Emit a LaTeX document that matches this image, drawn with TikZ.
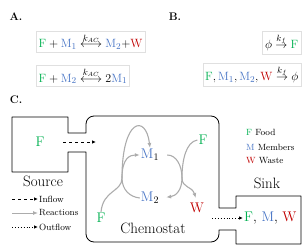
\documentclass[tikz,border=0pt]{standalone}
\usepackage{amsmath}
\usetikzlibrary{arrows.meta}
\definecolor{FoodGreen}{HTML}{00B050}
\definecolor{MemberBlue}{HTML}{4472C4}
\definecolor{WasteRed}{HTML}{C00000}
\definecolor{ReactGray}{HTML}{ACACAC}
\newcommand{\Fo}{\textcolor{FoodGreen}{\mathrm{F}}}
\newcommand{\Mi}[1]{\textcolor{MemberBlue}{\mathrm{M}_{#1}}}
\newcommand{\Wa}{\textcolor{WasteRed}{\mathrm{W}}}
\newcommand{\Fs}{\textcolor{FoodGreen}{F}}
\newcommand{\Ms}{\textcolor{MemberBlue}{M}}
\newcommand{\Ws}{\textcolor{WasteRed}{W}}

\begin{document}
\begin{tikzpicture}[x=1pt,y=-1pt,
      every node/.style={inner sep=1pt},
      tag/.style={font=\fontsize{11}{13}\selectfont\bfseries},
      eqn/.style={draw=black!12,inner sep=2.5pt,font=\fontsize{12.5}{15}\selectfont},
      place/.style={font=\fontsize{15}{18}\selectfont},
      species/.style={font=\fontsize{14}{16}\selectfont},
      keytext/.style={font=\fontsize{9}{11}\selectfont,anchor=west},
      wall/.style={line width=0.8pt,line join=round},
      inflow/.style={-{Latex[length=4pt,width=3.5pt]},dashed,line width=0.9pt},
      outflow/.style={-{Latex[length=4pt,width=3.5pt]},dotted,line width=0.9pt},
      react/.style={-{Latex[length=5pt,width=4pt]},draw=ReactGray,line width=1.1pt}]
  \useasboundingbox (0,0) rectangle (308,246);
  % panel tags
  \node[tag] (tagA) at (16,17) {A.};
  \node[tag] (tagB) at (175,17) {B.};
  \node[tag] (tagC) at (16,100) {C.};
  % reactions and flows
  \node[eqn,anchor=base west] (eqA1) at (36,48) {$\Fo + \Mi1 \overset{k_{AC}}{\longleftrightarrow} \Mi2{+}\Wa$};
  \node[eqn,anchor=base west] (eqA2) at (36,82) {$\Fo + \Mi2 \overset{k_{AC}}{\longleftrightarrow} 2\Mi1$};
  \node[eqn,anchor=base east] (eqB1) at (301,49) {$\phi \overset{k_f}{\rightarrow} \Fo$};
  \node[eqn,anchor=base east] (eqB2) at (301,81) {$\Fo, \Mi1, \Mi2, \Wa \overset{k_f}{\rightarrow} \phi$};
  % source, chemostat and sink walls
  \draw[wall] (12,117) -- (68,117) -- (68,133) -- (86,133) [rounded corners=8pt] -- (86,116) -- (219,116)
    [sharp corners] -- (219,208) -- (236,208) -- (236,196) -- (301,196) -- (301,244) -- (236,244) -- (236,230)
    -- (219,230) [rounded corners=8pt] -- (219,242) -- (86,242) [sharp corners] -- (86,152) -- (68,152)
    -- (68,172) -- (12,172) -- cycle;
  \node[place] (source) at (43,181) {Source};
  \node[place] (chemo) at (153,228) {Chemostat};
  \node[place] (sink) at (267,183) {Sink};
  % species
  \node[species] (fS) at (40,142) {\Fs};
  \node[species] (fL) at (101,218) {\Fs};
  \node[species] (fR) at (203,140) {\Fs};
  \node[species] (m1) at (150,155) {\Ms$_1$};
  \node[species] (m2) at (150,198) {\Ms$_2$};
  \node[species] (w) at (197,208) {\Ws};
  \node[species,anchor=west] (out) at (243,218) {\Fs, \Ms, \Ws};
  \coordinate (jL) at (122,178);
  \coordinate (jR) at (182,178);
  \coordinate (inS) at (63,142);
  \coordinate (inE) at (96,142);
  \coordinate (outS) at (212,218);
  \draw[inflow] (inS) -- (inE);
  \draw[outflow] (outS) -- (out.west);
  \draw[react] (fL.north) .. controls (103,190) and (122,192) .. (jL) .. controls (122,118) and (146,114) .. (m1.north);
  \draw[react] (m2.west) .. controls (130,197) and (122,190) .. (jL) .. controls (122,158) and (130,155) .. (m1.west);
  \draw[react,shorten <=7pt,shorten >=4pt] (m1.east) .. controls (176,155) and (182,165) .. (jR) .. controls (182,188) and (192,186) .. (w.north);
  \draw[react,shorten >=6pt] (fR.west) .. controls (186,142) and (182,160) .. (jR) .. controls (182,190) and (176,196) .. (m2.east);
  % legends
  \node[keytext] (kF) at (245,132) {\Fs\ Food};
  \node[keytext] (kM) at (245,147) {\Ms\ Members};
  \node[keytext] (kW) at (245,161) {\Ws\ Waste};
  \coordinate (lIn) at (12,199);
  \coordinate (lRe) at (12,213);
  \coordinate (lOut) at (12,227);
  \node[keytext] (tIn) at (38,199) {Inflow};
  \node[keytext] (tRe) at (38,213) {Reactions};
  \node[keytext] (tOut) at (38,227) {Outflow};
  \draw[inflow] (lIn) -- (tIn.west);
  \draw[react,line width=0.9pt] (lRe) -- (tRe.west);
  \draw[outflow] (lOut) -- (tOut.west);
\end{tikzpicture}
\end{document}
